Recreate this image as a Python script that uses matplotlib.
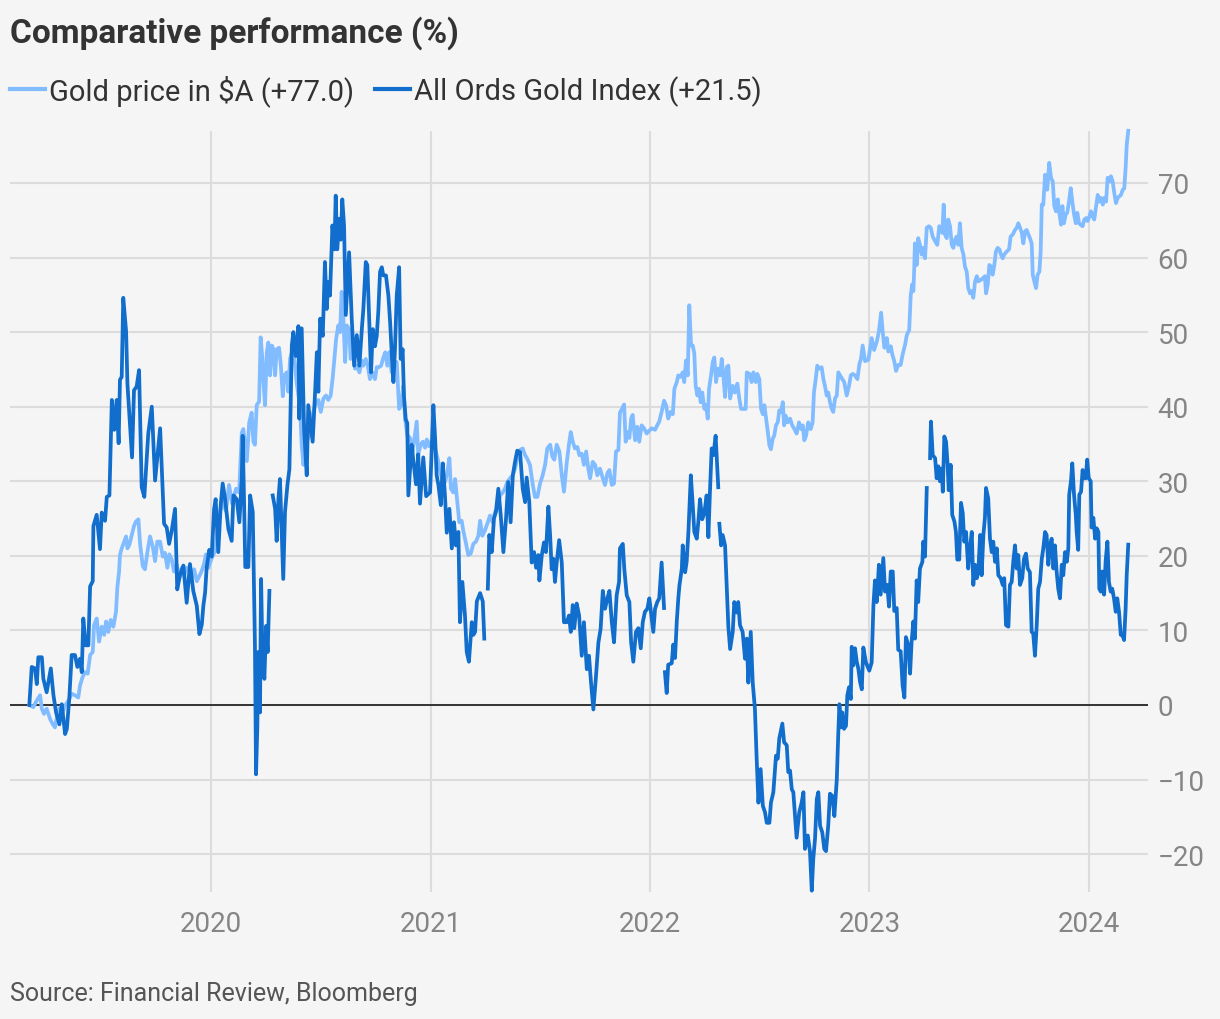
import numpy as np
import matplotlib.pyplot as plt
from matplotlib.lines import Line2D

plt.rcParams['font.family'] = ['Roboto', 'DejaVu Sans']

# dates as decimal years, values in % change since start
nan = float('nan')

ords_dates = [
    2019.172, 2019.183, 2019.198, 2019.206, 2019.213, 2019.229, 2019.236, 2019.251, 2019.270, 2019.282,
    2019.294, 2019.309, 2019.320, 2019.335, 2019.343, 2019.354, 2019.365, 2019.380, 2019.391, 2019.403,
    2019.411, 2019.418, 2019.429, 2019.441, 2019.449, 2019.461, 2019.464, 2019.479, 2019.494, 2019.502,
    2019.517, 2019.525, 2019.537, 2019.548, 2019.559, 2019.570, 2019.579, 2019.585, 2019.593, 2019.600,
    2019.613, 2019.619, 2019.631, 2019.640, 2019.649, 2019.661, 2019.672, 2019.684, 2019.696, 2019.714,
    2019.730, 2019.745, 2019.768, 2019.786, 2019.798, 2019.809, 2019.821, 2019.836, 2019.846, 2019.859,
    2019.874, 2019.889, 2019.904, 2019.919, 2019.935, 2019.947, 2019.958, 2019.965, 2019.973, 2019.980,
    2019.992, 2020.003, 2020.014, 2020.021, 2020.033, 2020.044, 2020.053, 2020.064, 2020.079, 2020.094,
    2020.102, 2020.117, 2020.129, 2020.140, 2020.144, 2020.150, 2020.156, 2020.170, 2020.178, 2020.190,
    2020.200, 2020.205, 2020.211, 2020.215, 2020.223, 2020.228, 2020.234, 2020.243, 2020.251, 2020.258,
    2020.266, 2020.268, 2020.281, 2020.292, 2020.299, 2020.307, 2020.314, 2020.329, 2020.337, 2020.348,
    2020.357, 2020.368, 2020.375, 2020.386, 2020.398, 2020.402, 2020.413, 2020.424, 2020.436, 2020.443,
    2020.454, 2020.463, 2020.474, 2020.482, 2020.489, 2020.497, 2020.509, 2020.519, 2020.527, 2020.534,
    2020.542, 2020.553, 2020.562, 2020.568, 2020.575, 2020.585, 2020.591, 2020.598, 2020.606, 2020.614,
    2020.621, 2020.629, 2020.641, 2020.652, 2020.664, 2020.676, 2020.687, 2020.694, 2020.705, 2020.712,
    2020.721, 2020.729, 2020.737, 2020.747, 2020.755, 2020.762, 2020.770, 2020.778, 2020.785, 2020.797,
    2020.808, 2020.816, 2020.823, 2020.831, 2020.838, 2020.846, 2020.857, 2020.864, 2020.873, 2020.879,
    2020.887, 2020.894, 2020.899, 2020.914, 2020.922, 2020.934, 2020.944, 2020.952, 2020.967, 2020.980,
    2020.998, 2021.013, 2021.021, 2021.028, 2021.036, 2021.047, 2021.056, 2021.066, 2021.074, 2021.086,
    2021.097, 2021.107, 2021.116, 2021.127, 2021.134, 2021.145, 2021.157, 2021.165, 2021.175, 2021.188,
    2021.195, 2021.203, 2021.211, 2021.226, 2021.238, 2021.245, 2021.247, 2021.261, 2021.268, 2021.279,
    2021.289, 2021.298, 2021.309, 2021.320, 2021.332, 2021.344, 2021.354, 2021.365, 2021.375, 2021.385,
    2021.395, 2021.408, 2021.420, 2021.431, 2021.438, 2021.450, 2021.461, 2021.472, 2021.481, 2021.491,
    2021.496, 2021.507, 2021.517, 2021.526, 2021.537, 2021.545, 2021.552, 2021.560, 2021.567, 2021.575,
    2021.586, 2021.598, 2021.608, 2021.621, 2021.631, 2021.639, 2021.648, 2021.655, 2021.666, 2021.677,
    2021.689, 2021.699, 2021.712, 2021.722, 2021.731, 2021.742, 2021.753, 2021.765, 2021.775, 2021.785,
    2021.795, 2021.806, 2021.815, 2021.826, 2021.836, 2021.848, 2021.859, 2021.863, 2021.876, 2021.883,
    2021.894, 2021.906, 2021.914, 2021.924, 2021.936, 2021.947, 2021.958, 2021.967, 2021.977, 2021.988,
    2021.997, 2022.008, 2022.015, 2022.023, 2022.033, 2022.042, 2022.053, 2022.064, 2022.066, 2022.068,
    2022.076, 2022.083, 2022.099, 2022.106, 2022.114, 2022.122, 2022.129, 2022.134, 2022.145, 2022.149,
    2022.160, 2022.167, 2022.175, 2022.186, 2022.195, 2022.202, 2022.213, 2022.220, 2022.228, 2022.238,
    2022.248, 2022.258, 2022.266, 2022.273, 2022.281, 2022.289, 2022.299, 2022.311, 2022.313, 2022.316,
    2022.324, 2022.331, 2022.342, 2022.350, 2022.357, 2022.365, 2022.377, 2022.384, 2022.395, 2022.402,
    2022.410, 2022.422, 2022.433, 2022.441, 2022.448, 2022.459, 2022.468, 2022.478, 2022.486, 2022.494,
    2022.504, 2022.514, 2022.524, 2022.532, 2022.544, 2022.551, 2022.562, 2022.574, 2022.582, 2022.589,
    2022.603, 2022.611, 2022.623, 2022.630, 2022.638, 2022.646, 2022.653, 2022.661, 2022.668, 2022.680,
    2022.691, 2022.699, 2022.706, 2022.719, 2022.729, 2022.737, 2022.744, 2022.752, 2022.760, 2022.767,
    2022.775, 2022.785, 2022.794, 2022.802, 2022.812, 2022.820, 2022.831, 2022.840, 2022.851, 2022.858,
    2022.863, 2022.870, 2022.876, 2022.884, 2022.893, 2022.899, 2022.907, 2022.915, 2022.919, 2022.926,
    2022.934, 2022.942, 2022.949, 2022.957, 2022.965, 2022.972, 2022.984, 2022.999, 2023.010, 2023.018,
    2023.025, 2023.033, 2023.043, 2023.051, 2023.063, 2023.071, 2023.081, 2023.089, 2023.097, 2023.106,
    2023.113, 2023.124, 2023.131, 2023.142, 2023.151, 2023.159, 2023.166, 2023.177, 2023.185, 2023.192,
    2023.200, 2023.207, 2023.215, 2023.222, 2023.230, 2023.241, 2023.245, 2023.253, 2023.261, 2023.268,
    2023.276, 2023.280, 2023.288, 2023.299, 2023.306, 2023.314, 2023.321, 2023.329, 2023.334, 2023.341,
    2023.349, 2023.356, 2023.361, 2023.370, 2023.377, 2023.387, 2023.394, 2023.400, 2023.409, 2023.417,
    2023.425, 2023.432, 2023.440, 2023.450, 2023.458, 2023.466, 2023.473, 2023.481, 2023.489, 2023.496,
    2023.504, 2023.511, 2023.519, 2023.526, 2023.531, 2023.541, 2023.549, 2023.557, 2023.564, 2023.572,
    2023.580, 2023.587, 2023.598, 2023.607, 2023.614, 2023.622, 2023.633, 2023.640, 2023.648, 2023.655,
    2023.663, 2023.671, 2023.678, 2023.686, 2023.696, 2023.704, 2023.713, 2023.721, 2023.731, 2023.739,
    2023.746, 2023.754, 2023.762, 2023.769, 2023.777, 2023.785, 2023.792, 2023.800, 2023.807, 2023.815,
    2023.823, 2023.830, 2023.838, 2023.845, 2023.853, 2023.860, 2023.868, 2023.876, 2023.883, 2023.891,
    2023.899, 2023.906, 2023.910, 2023.918, 2023.924, 2023.932, 2023.940, 2023.944, 2023.951, 2023.956,
    2023.964, 2023.971, 2023.977, 2023.985, 2023.992, 2023.999, 2024.008, 2024.012, 2024.020, 2024.028,
    2024.035, 2024.043, 2024.047, 2024.054, 2024.061, 2024.069, 2024.076, 2024.084, 2024.091, 2024.099,
    2024.106, 2024.114, 2024.122, 2024.129, 2024.137, 2024.145, 2024.152, 2024.160, 2024.167, 2024.172, 2024.179,
]
ords_values = [
    0, 5.1, 4.9, 2.8, 6.4, 6.4, 3.5, 1.7, 4.9, 1.3,
    -1, -2.6, 0.1, -3.9, -3.2, 0.8, 6.7, 6.7, 5.1, 6.2,
    4.4, 11.6, 8.0, 8.0, 15.9, 16.6, 24, 25.5, 20.9, 25.8,
    24.7, 27.9, 28.1, 40.9, 36.9, 40.9, 35.1, 43.6, 44, 54.6,
    50.1, 43.1, 37.5, 33.2, 42.2, 42.7, 44.9, 29.2, 27.9, 36.4,
    40, 30.1, 37.1, 24.3, 23.8, 21.6, 23.4, 26.3, 15.5, 17.5,
    18.7, 13.7, 18.9, 15.3, 13.3, 9.5, 10.8, 13.3, 15.1, 18.4,
    20.8, 19.9, 26.3, 27.6, 20.5, 26.8, 29.7, 27.6, 23.6, 22,
    28.1, 27.6, 24.5, 30.3, 36.1, 28, 18.5, 18.5, 28.1, 25.9,
    8, -9.3, -2.8, 7.1, -1, 16.9, 7.1, 3.5, 10.6, 7.1,
    15.3, nan, 28.1, 26.3, 22, 27.6, 30.3, 16.9, 25.9, 29.5,
    31.6, 48.2, 50, 46.8, 50.8, 38.4, 50.5, 37, 30.8, 40.2,
    37.5, 35.3, 41.9, 47.3, 42, 51.8, 49.5, 59.4, 53.1, 56.7,
    54.9, 64.3, 61.1, 68.3, 61.1, 65.2, 62.4, 67.8, 64.3, 52.3,
    56.3, 60.7, 51.8, 45.5, 49.6, 45.5, 50.4, 53.1, 59.4, 59,
    51.3, 44.6, 50.4, 48.1, 49.5, 52.7, 58.1, 58.7, 57.6, 57.6,
    54.9, 51.3, 47.3, 43.3, 47.7, 54.9, 58.7, 46.4, 47.7, 41.4,
    38.3, 37.8, 28.1, 34.9, 32.7, 29.6, 33.6, 27, 33.2, 28,
    28.5, 40.2, 35.7, 30.8, 29.5, 26.8, 32.4, 28, 23.1, 26.3,
    21, 24.5, 21.4, 23.2, 11.1, 16.5, 12, 7.1, 5.8, 11.1,
    9.4, 9.8, 13.9, 15, 13.9, 8.9, nan, 15.6, 22.8, 20.5,
    25, 25.9, 29, 25.4, 20.5, 25, 29.9, 24.5, 30.8, 32.6,
    34.1, 33.9, 29, 27.2, 30.5, 27.2, 19.1, 20.5, 18.4, 20.1,
    16.7, 20.1, 21.8, 20.5, 26.6, 22.7, 18.2, 19.6, 16.5, 19.1,
    22.1, 19.1, 11.1, 11.1, 12, 9.8, 13.4, 10.3, 13.6, 12,
    6.6, 11.1, 4.8, 6.6, 3.1, -0.6, 3.5, 8.4, 10.2, 15.3,
    12.9, 14.3, 15.3, 11.1, 8.4, 14.7, 16.5, 21, 21.6, 18.2,
    14.7, 13.8, 8.4, 5.8, 9.8, 10.3, 7.6, 11.1, 12.5, 12.9,
    14.3, 11.6, 9.8, 12.9, 13.8, 14.3, 19.1, 13, nan, 4.4,
    1.6, 5.4, 5.6, 8.1, 6.3, 11.2, 14.3, 16, 18.3, 21.4,
    17.8, 19.2, 23.2, 30.8, 26.7, 23.2, 22.3, 24.5, 27.6, 24.9,
    25.8, 28.1, 22.5, 28.5, 34.4, 33.5, 36.1, 29.2, nan, 24.3,
    21.4, 22.8, 21.4, 15.6, 10.5, 7.5, 9.8, 13.8, 12.4, 13.8,
    10.7, 9.8, 6.2, 8.9, 3, 9.8, 3, -0.5, -7.2, -13.1,
    -8.6, -13.5, -14.4, -15.8, -15.8, -13.1, -11.7, -6.8, -7.2, -4.5,
    -2.5, -5, -5.4, -9, -8.8, -11.3, -11.7, -14.9, -17.8, -14.4,
    -13.1, -11.7, -19.3, -17.5, -19.7, -24.9, -20.6, -17.9, -12.6, -11.7,
    -16.2, -17.1, -19.3, -19.6, -16.2, -11.9, -12.2, -14.9, -10, -3.7,
    0.1, -3, -1, -3.2, -2.8, 1.3, 2.4, 0.8, 7.8, 5.3,
    7.6, 5.8, 4.9, 3.1, 2.1, 7.7, 5.7, 4.6, 5.7, 13.4,
    16.7, 13.8, 18.8, 14.8, 19.7, 15.2, 16.1, 13.2, 17.9, 17.9,
    12.6, 13, 7.4, 7.2, 2.6, 1, 9.1, 8, 4.2, 8.5,
    11.2, 8.9, 16.7, 13.8, 18.3, 19.2, 21.9, 19.9, 29.1, nan,
    33.1, 38, 33.5, 33.1, 30.4, 32, 30, 31.7, 28.6, 36,
    35.3, 32.2, 28.8, 32.2, 25.5, 24.6, 23.2, 19.5, 19.5, 27.1,
    25.7, 21.9, 23.2, 18.3, 21, 23.2, 16.1, 18.8, 17, 17.9,
    22.8, 17.4, 22.8, 25.1, 29.1, 27.7, 22.3, 20.5, 21.9, 19.2,
    21, 17.4, 17, 16.1, 17, 10.7, 10.5, 16.1, 16.5, 19.2,
    21.4, 18.3, 20.1, 16.1, 17, 19.6, 20.3, 18.3, 17.8, 9.8,
    9.6, 6.6, 10.7, 15.6, 16.5, 19.6, 21, 23.2, 22.8, 18.8,
    21.4, 22.3, 18.3, 21.4, 17.8, 15.6, 14.3, 18.8, 17.4, 20.5,
    19.2, 21, 28.2, 30, 32.4, 28.2, 25.5, 23.2, 20.8, 28.2,
    28.6, 31.5, 30.4, 30.4, 32.9, 30.4, 30, 23.8, 25.1, 22.3,
    23.7, 23.2, 15.6, 15.2, 17.9, 14.8, 19.3, 21.9, 16.5, 15.2,
    15.6, 14.3, 12.5, 14.3, 12.5, 9.4, 9.4, 8.7, 12.9, 17.4, 21.5,
]

gold_dates = [
    2019.172, 2019.190, 2019.206, 2019.221, 2019.229, 2019.239, 2019.251, 2019.267, 2019.279, 2019.289,
    2019.300, 2019.312, 2019.324, 2019.335, 2019.350, 2019.365, 2019.380, 2019.395, 2019.403, 2019.414,
    2019.426, 2019.438, 2019.449, 2019.461, 2019.467, 2019.479, 2019.490, 2019.502, 2019.513, 2019.522,
    2019.532, 2019.543, 2019.555, 2019.567, 2019.573, 2019.581, 2019.585, 2019.593, 2019.604, 2019.613,
    2019.619, 2019.628, 2019.639, 2019.649, 2019.658, 2019.669, 2019.677, 2019.689, 2019.699, 2019.710,
    2019.722, 2019.734, 2019.745, 2019.755, 2019.768, 2019.780, 2019.790, 2019.801, 2019.810, 2019.821,
    2019.831, 2019.844, 2019.856, 2019.867, 2019.877, 2019.889, 2019.901, 2019.912, 2019.923, 2019.935,
    2019.947, 2019.958, 2019.968, 2019.977, 2019.988, 2020.003, 2020.018, 2020.032, 2020.050, 2020.068,
    2020.082, 2020.096, 2020.114, 2020.128, 2020.140, 2020.147, 2020.163, 2020.174, 2020.185, 2020.193,
    2020.200, 2020.208, 2020.219, 2020.226, 2020.234, 2020.238, 2020.246, 2020.254, 2020.261, 2020.269,
    2020.277, 2020.284, 2020.292, 2020.299, 2020.310, 2020.318, 2020.327, 2020.334, 2020.345, 2020.352,
    2020.360, 2020.372, 2020.383, 2020.390, 2020.398, 2020.405, 2020.413, 2020.421, 2020.433, 2020.443,
    2020.451, 2020.466, 2020.478, 2020.489, 2020.500, 2020.512, 2020.524, 2020.534, 2020.545, 2020.554,
    2020.562, 2020.570, 2020.580, 2020.588, 2020.595, 2020.603, 2020.611, 2020.618, 2020.629, 2020.636,
    2020.646, 2020.656, 2020.664, 2020.676, 2020.687, 2020.694, 2020.705, 2020.714, 2020.724, 2020.735,
    2020.747, 2020.755, 2020.765, 2020.775, 2020.785, 2020.794, 2020.803, 2020.812, 2020.823, 2020.834,
    2020.846, 2020.857, 2020.866, 2020.876, 2020.884, 2020.894, 2020.907, 2020.919, 2020.929, 2020.937,
    2020.944, 2020.955, 2020.965, 2020.975, 2020.983, 2020.993, 2021.006, 2021.021, 2021.036, 2021.051,
    2021.066, 2021.077, 2021.086, 2021.093, 2021.104, 2021.112, 2021.122, 2021.131, 2021.142, 2021.149,
    2021.160, 2021.172, 2021.183, 2021.195, 2021.207, 2021.218, 2021.226, 2021.236, 2021.248, 2021.261,
    2021.271, 2021.283, 2021.294, 2021.304, 2021.317, 2021.329, 2021.339, 2021.350, 2021.362, 2021.375,
    2021.385, 2021.395, 2021.408, 2021.420, 2021.431, 2021.441, 2021.453, 2021.466, 2021.476, 2021.487,
    2021.499, 2021.511, 2021.522, 2021.532, 2021.545, 2021.555, 2021.564, 2021.575, 2021.587, 2021.598,
    2021.608, 2021.621, 2021.631, 2021.639, 2021.648, 2021.658, 2021.669, 2021.678, 2021.689, 2021.699,
    2021.709, 2021.719, 2021.727, 2021.739, 2021.750, 2021.760, 2021.772, 2021.785, 2021.795, 2021.806,
    2021.815, 2021.826, 2021.836, 2021.845, 2021.856, 2021.863, 2021.874, 2021.882, 2021.889, 2021.897,
    2021.906, 2021.914, 2021.921, 2021.932, 2021.942, 2021.951, 2021.962, 2021.973, 2021.985, 2021.997,
    2022.008, 2022.023, 2022.033, 2022.042, 2022.053, 2022.064, 2022.073, 2022.083, 2022.094, 2022.104,
    2022.111, 2022.122, 2022.129, 2022.140, 2022.149, 2022.156, 2022.164, 2022.172, 2022.179, 2022.187,
    2022.195, 2022.202, 2022.208, 2022.216, 2022.223, 2022.231, 2022.238, 2022.248, 2022.255, 2022.263,
    2022.269, 2022.278, 2022.286, 2022.293, 2022.301, 2022.309, 2022.319, 2022.327, 2022.334, 2022.342,
    2022.350, 2022.357, 2022.365, 2022.377, 2022.387, 2022.398, 2022.407, 2022.415, 2022.425, 2022.436,
    2022.441, 2022.453, 2022.463, 2022.471, 2022.482, 2022.489, 2022.498, 2022.506, 2022.514, 2022.521,
    2022.529, 2022.536, 2022.544, 2022.551, 2022.559, 2022.566, 2022.574, 2022.582, 2022.589, 2022.597,
    2022.605, 2022.611, 2022.618, 2022.627, 2022.638, 2022.648, 2022.658, 2022.668, 2022.679, 2022.688,
    2022.696, 2022.703, 2022.711, 2022.721, 2022.732, 2022.741, 2022.747, 2022.755, 2022.762, 2022.771,
    2022.782, 2022.790, 2022.797, 2022.805, 2022.812, 2022.820, 2022.828, 2022.835, 2022.843, 2022.851,
    2022.858, 2022.866, 2022.876, 2022.885, 2022.896, 2022.907, 2022.915, 2022.924, 2022.934, 2022.945,
    2022.954, 2022.961, 2022.969, 2022.980, 2022.995, 2023.010, 2023.021, 2023.033, 2023.043, 2023.053,
    2023.060, 2023.068, 2023.079, 2023.086, 2023.097, 2023.104, 2023.113, 2023.121, 2023.131, 2023.142,
    2023.151, 2023.162, 2023.170, 2023.181, 2023.188, 2023.195, 2023.200, 2023.204, 2023.207, 2023.215,
    2023.222, 2023.230, 2023.238, 2023.245, 2023.253, 2023.261, 2023.271, 2023.279, 2023.288, 2023.299,
    2023.309, 2023.318, 2023.325, 2023.332, 2023.338, 2023.344, 2023.352, 2023.359, 2023.367, 2023.375,
    2023.382, 2023.390, 2023.397, 2023.405, 2023.412, 2023.420, 2023.428, 2023.435, 2023.443, 2023.450,
    2023.458, 2023.466, 2023.473, 2023.481, 2023.489, 2023.496, 2023.507, 2023.516, 2023.526, 2023.531,
    2023.539, 2023.546, 2023.554, 2023.561, 2023.569, 2023.576, 2023.584, 2023.592, 2023.599, 2023.607,
    2023.614, 2023.625, 2023.636, 2023.643, 2023.653, 2023.663, 2023.671, 2023.678, 2023.686, 2023.694,
    2023.701, 2023.709, 2023.716, 2023.724, 2023.731, 2023.739, 2023.744, 2023.751, 2023.759, 2023.766,
    2023.774, 2023.780, 2023.785, 2023.792, 2023.800, 2023.810, 2023.819, 2023.827, 2023.835, 2023.842,
    2023.850, 2023.858, 2023.865, 2023.873, 2023.879, 2023.886, 2023.894, 2023.901, 2023.909, 2023.917,
    2023.924, 2023.932, 2023.940, 2023.947, 2023.955, 2023.962, 2023.971, 2023.979, 2023.987, 2023.994,
    2024.002, 2024.009, 2024.017, 2024.024, 2024.032, 2024.040, 2024.047, 2024.055, 2024.063, 2024.070,
    2024.078, 2024.085, 2024.093, 2024.100, 2024.108, 2024.115, 2024.123, 2024.131, 2024.138, 2024.146,
    2024.154, 2024.161, 2024.167, 2024.172, 2024.179,
]
gold_values = [
    0, -0.3, 0.6, 1.3, -0.5, -1.2, -0.5, -1.9, -2.6, -3,
    -1.2, -0.3, -1, -0.1, 0.6, 1.5, 1.3, 1, 2.6, 3.7,
    4.4, 4.2, 6.7, 7.1, 10.7, 11.6, 8.5, 10.5, 9.4, 11.2,
    9.8, 11.4, 10.5, 12.5, 15.7, 17.9, 20.1, 21, 21.9, 22.6,
    21, 21.5, 22.8, 24, 24.6, 24.9, 21.5, 18.6, 18.2, 20.5,
    22.6, 21.3, 19.3, 21.9, 21.9, 19.9, 20.4, 18.4, 20.2, 19.5,
    17.9, 18.8, 17, 18.4, 17.3, 18.4, 18.2, 17, 18.2, 16.6,
    17.3, 18, 18.9, 20.2, 18.4, 19.7, 20.6, 24, 27.5, 26,
    29.5, 27, 29, 28.5, 36.5, 37, 32.7, 37.9, 39.2, 35.3,
    34.9, 40.2, 40.7, 49.3, 46.4, 43.8, 40.2, 47.3, 48.6, 44.2,
    48.2, 47.7, 44.2, 47.7, 47.9, 45.5, 41.4, 44.2, 44.6, 42,
    46.4, 47.7, 45.5, 43.3, 41.5, 40.2, 34.9, 32.2, 35.8, 35.8,
    37.5, 39.3, 40.6, 40.9, 39.3, 41.1, 41.5, 40.9, 41.5, 43.8,
    46.4, 49.1, 50.9, 50, 55.4, 51.8, 46, 50.9, 50.4, 46.4,
    48.2, 45.1, 45.5, 44.6, 46.2, 45.5, 46.4, 45.5, 43.7, 44.6,
    43.7, 45.3, 45.3, 45.5, 46.6, 47.3, 45.5, 47.3, 44.6, 46,
    46, 39.7, 40.2, 42.8, 38.4, 36.2, 35.8, 34, 36.2, 38,
    33.6, 34.9, 35.3, 34.5, 35.6, 34.7, 35.5, 34.4, 32.6, 30.4,
    29.9, 31.3, 33.1, 29, 28.5, 30.3, 27.2, 24.5, 24.7, 23.4,
    21.9, 20.1, 20.3, 21.6, 21.9, 22.7, 24.7, 22.7, 23.4, 24.5,
    25.4, 24.5, 25.9, 26.3, 28.1, 28.5, 29, 29.9, 30.4, 30.8,
    31.7, 33, 34.2, 34.4, 33.5, 33, 32.2, 29.5, 27.9, 27.9,
    29.7, 30.8, 32.2, 34.4, 34.9, 33.3, 32.9, 34.9, 34, 30.8,
    28.6, 32.6, 35, 36.6, 35.3, 34.4, 34.6, 33.5, 33.7, 32.2,
    34, 31.7, 30.4, 32.6, 32.2, 30.8, 31.7, 30.4, 29.5, 31.1,
    31.5, 29.5, 29.7, 34, 34.2, 39.2, 39.8, 40.3, 35.3, 36.6,
    35.8, 38.4, 38.9, 35.5, 37.3, 35.3, 37.5, 37.1, 36.4, 36.8,
    37.1, 36.9, 37.5, 38, 39.3, 40.8, 40.2, 38.4, 39.3, 39,
    42.4, 43.3, 44.2, 44, 44.6, 43.3, 46.2, 44.2, 53.6, 48.2,
    48.2, 47.1, 42.8, 41.5, 42.4, 40.6, 41.9, 39.7, 40.2, 38.4,
    42.4, 44.2, 46, 46.6, 43.3, 45.1, 44.2, 46.4, 44.2, 41.3,
    45.3, 45.5, 41.1, 42.8, 41.9, 43.1, 41.1, 39.7, 39.7, 39.7,
    44.6, 44.4, 43.3, 44.6, 43.3, 44.4, 43.7, 39.7, 39, 40.2,
    38.4, 36.8, 34.8, 34.3, 35.7, 36.1, 37.5, 37.9, 39.5, 39.3,
    40.6, 37.5, 38.8, 37.9, 38.4, 37.5, 37, 36.4, 37.9, 37,
    37.5, 35.5, 36.1, 37.9, 37, 37.9, 41.9, 43.7, 45.5, 45.1,
    45.3, 43.7, 42.8, 41.5, 41.9, 40.6, 39.7, 39.3, 41.1, 41.5,
    44.6, 44.2, 43.7, 43.3, 41.5, 42.8, 44.2, 44.4, 44.2, 43.7,
    45.7, 46.4, 48.2, 46.1, 46.3, 49.2, 47.6, 48.7, 50.1, 52.6,
    50.1, 47.9, 49.2, 47.4, 48.1, 47, 46.1, 44.8, 45.6, 45.6,
    47, 48.3, 49.6, 50.3, 55, 56.4, 55.5, 58.6, 61.9, 59,
    62.6, 61.7, 60.4, 61.3, 59.9, 64, 64.2, 64, 62.8, 62.2,
    61.7, 64.2, 64, 63.3, 67.1, 63.1, 62.6, 65.1, 64.2, 61.7,
    61.3, 62.4, 62.8, 61.7, 64.6, 61.3, 60.4, 58.8, 58.1, 55.9,
    55.2, 55.5, 54.6, 56.8, 57.5, 56.8, 57, 57.2, 57.5, 55.2,
    56.4, 59, 58.8, 57.7, 59, 60.8, 61.3, 61.1, 60.4, 59.9,
    60.4, 60.8, 61.1, 62.8, 63.1, 63.7, 64, 64.6, 64, 63.3,
    61.9, 63.5, 63.7, 63.1, 62.6, 61.9, 57.7, 56.8, 55.9, 57.7,
    58.1, 60.8, 67.1, 67.1, 71.1, 69.1, 72.7, 70.7, 70.2, 66.9,
    66.2, 67.8, 66, 64.4, 66.9, 64.6, 65.8, 66, 67.5, 69.3,
    67.5, 65.8, 64.6, 66, 64.6, 64.4, 64.2, 65.1, 65.3, 64.9,
    65.5, 66.2, 65.5, 65.1, 66.7, 68.4, 67.5, 68, 67.1, 68,
    67.5, 70.7, 70.2, 70.9, 70.2, 68.7, 67.3, 68, 68.2, 68.4,
    69.1, 69.3, 72, 75.1, 77.0,
]

series_labels = ['Gold price in $A (+77.0)', 'All Ords Gold Index (+21.5)']
year_ticks = [2020, 2021, 2022, 2023, 2024]
y_ticks = [-20, -10, 0, 10, 20, 30, 40, 50, 60, 70]

bg = '#f5f5f5'
light_blue = '#80bcff'
dark_blue = '#116ecc'
grid_col = '#dcdcdc'

W, H = 1220, 1020
fig = plt.figure(figsize=(W / 100, H / 100), dpi=100, facecolor=bg)
ax = fig.add_axes([10 / W, 1 - 893 / H, 1138 / W, 761 / H])
ax.set_facecolor(bg)

ax.plot(gold_dates, gold_values, color=light_blue, lw=2.7, solid_joinstyle='round', zorder=3, clip_on=False)
ax.plot(ords_dates, ords_values, color=dark_blue, lw=2.7, solid_joinstyle='round', zorder=4, clip_on=False)
ax.axhline(0, color='#333333', lw=1.4, zorder=2)

ax.set_xlim(2019.084, 2024.269)
ax.set_ylim(-25.08, 76.97)
ax.set_xticks(year_ticks)
ax.set_xticklabels([str(y) for y in year_ticks])
ax.set_yticks(y_ticks)
ax.yaxis.tick_right()
ax.tick_params(axis='both', length=0, labelsize=20, labelcolor='#858585')
ax.tick_params(axis='y', pad=7)
ax.tick_params(axis='x', pad=13)
ax.grid(True, color=grid_col, lw=1.5, zorder=0)
for s in ax.spines.values():
    s.set_visible(False)

fig.text(10 / W, 1 - 33 / H, 'Comparative performance (%)', fontsize=24, fontweight='bold',
         color='#333333', va='center', ha='left')

handles = [Line2D([], [], color=light_blue, lw=3), Line2D([], [], color=dark_blue, lw=3)]
fig.legend(handles, series_labels, loc='center left', bbox_to_anchor=(10 / W, 1 - 91 / H), ncol=2,
           frameon=False, fontsize=21, handlelength=1.2, handletextpad=0.15, columnspacing=0.7,
           borderpad=0, borderaxespad=0, labelcolor='#333333')

fig.text(10 / W, 1 - 994 / H, 'Source: Financial Review, Bloomberg', fontsize=18, color='#555555',
         va='center', ha='left')

fig.savefig('out.png', dpi=100, facecolor=bg)
